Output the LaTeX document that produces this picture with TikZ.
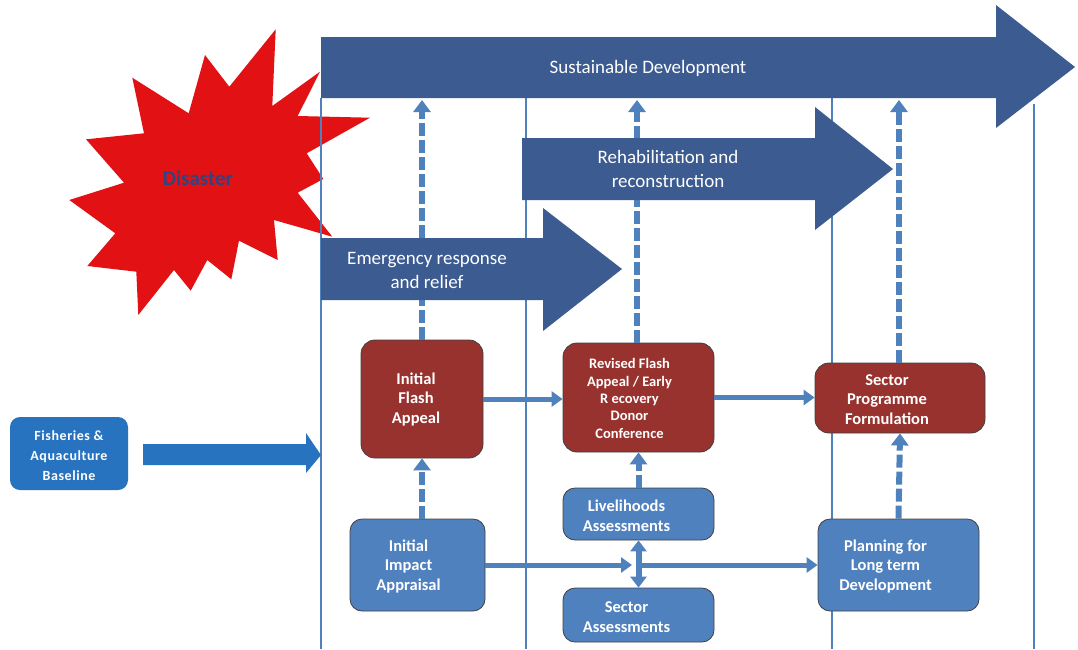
\documentclass[tikz,border=0pt]{standalone}
\usepackage{fontspec}
\setmainfont{Carlito}
\usetikzlibrary{arrows.meta}
\definecolor{arrowblue}{RGB}{59,91,145}
\definecolor{lineblue}{RGB}{79,129,189}
\definecolor{boxred}{RGB}{152,50,46}
\definecolor{boxblue}{RGB}{79,129,191}
\definecolor{fishblue}{RGB}{39,115,192}
\definecolor{starred}{RGB}{225,17,20}
\definecolor{navy}{RGB}{48,68,130}
\tikzset{
  redbox/.style={draw=black!75, line width=0.8pt, fill=boxred, rounded corners=14pt, inner sep=0pt},
  bluebox/.style={draw=black!75, line width=0.8pt, fill=boxblue, rounded corners=12pt, inner sep=0pt},
  boxtext/.style={text=white, align=center, inner sep=0pt, font=\bfseries\fontsize{16.5}{19.5}\selectfont},
  bigarrow/.style={fill=arrowblue, draw=none},
  arrowtext/.style={text=white, align=center, inner sep=0pt, font=\fontsize{19}{24}\selectfont},
  lane/.style={draw=lineblue, line width=1.5pt},
  dasharrow/.style={draw=lineblue, line width=6pt, dash pattern=on 13pt off 4pt, -{Triangle[width=17pt,length=12pt]}},
  solidarrow/.style={draw=lineblue, line width=5pt, -{Triangle[width=15pt,length=11pt]}},
  dblarrow/.style={draw=lineblue, line width=6pt, {Triangle[width=16pt,length=11pt]}-{Triangle[width=16pt,length=11pt]}}
}
\begin{document}
\begin{tikzpicture}[x=1pt,y=-1pt]
\useasboundingbox (0,0) rectangle (1078,649);

% Disaster star
\fill[starred] (275.7,29.3) -- (272.3,106) -- (320,71.7) -- (297.7,116) -- (370,117.7) -- (306.7,153.3)
  -- (323.3,179) -- (297.7,192.7) -- (332.3,236.7) -- (274,220) -- (277.7,260) -- (239,240.7)
  -- (231.3,279.3) -- (207.3,260) -- (190.7,290.7) -- (174,270) -- (138.3,315) -- (136.3,271.7)
  -- (87.3,266) -- (115.3,233.3) -- (69.3,200) -- (124,182.7) -- (86,139.3) -- (144,133.3)
  -- (132.3,77.7) -- (188.7,113.3) -- (205,55) -- (229.3,86.7) -- cycle;
\node[text=navy, font=\bfseries\fontsize{21}{24}\selectfont, inner sep=0pt] (dis) at (198,178) {Disaster};

% swimlane lines
\draw[lane] (321,98) -- (321,649);
\draw[lane] (526,98) -- (526,649);
\draw[lane] (832,98) -- (832,649);
\draw[lane] (1034,104) -- (1034,649);

% boxes
\node[redbox, minimum width=122pt, minimum height=118pt] (ifa) at (422,399) {};
\node[redbox, minimum width=151pt, minimum height=109pt] (rev) at (638.5,397.5) {};
\node[redbox, minimum width=170pt, minimum height=70pt] (spf) at (900,398) {};
\node[bluebox, minimum width=135pt, minimum height=92pt] (iia) at (417.5,565) {};
\node[bluebox, minimum width=151pt, minimum height=52pt] (liv) at (638.5,514) {};
\node[bluebox, minimum width=151pt, minimum height=54pt] (sa) at (638.5,615) {};
\node[bluebox, minimum width=161pt, minimum height=92pt] (plan) at (898.5,565) {};
\node[fill=fishblue, rounded corners=10pt, minimum width=118pt, minimum height=73pt, inner sep=0pt] (fab) at (69,453.5) {};

% connector coordinates
\coordinate (t1) at (422,100);
\coordinate (t2) at (637,100);
\coordinate (t3) at (899,100);
\coordinate (cross) at (632,565);
\coordinate (cross2) at (641,565);
\coordinate (fabend) at (321,455);

% dashed arrows to sustainable development
\draw[dasharrow] (ifa.north) -- (t1);
\draw[dasharrow] (rev.north -| t2) -- (t2);
\draw[dasharrow] (spf.north -| t3) -- (t3);

% big arrows
\fill[bigarrow] (321,37) -- (996,37) -- (996,5) -- (1075,67) -- (996,128) -- (996,98) -- (321,98) -- cycle;
\fill[bigarrow] (522,138) -- (815,138) -- (815,107) -- (893,169) -- (815,230) -- (815,200) -- (522,200) -- cycle;
\fill[bigarrow] (321,238) -- (543,238) -- (543,208) -- (622,269) -- (543,331) -- (543,300) -- (321,300) -- cycle;
\node[arrowtext] (sdt) at (648,68) {Sustainable Development};
\node[arrowtext] (rrt) at (668,169) {Rehabilitation and\\reconstruction};
\node[arrowtext] (ert) at (427,270) {Emergency response\\and relief};

% fisheries arrow
\fill[fishblue] (143,444) -- (306,444) -- (306,433) -- (fabend) -- (306,473) -- (306,465) -- (143,465) -- cycle;

% box texts
\node[boxtext] (ifat) at ([xshift=-6pt]ifa.center) {Initial\\Flash\\Appeal};
\node[boxtext, font=\bfseries\fontsize{14.5}{17.3}\selectfont] (revt) at ([xshift=-9pt,yshift=-1pt]rev.center) {Revised Flash\\Appeal / Early\\R ecovery\\Donor\\Conference};
\node[boxtext] (spft) at ([xshift=-13pt,yshift=-1.5pt]spf.center) {Sector\\Programme\\Formulation};
\node[boxtext] (iiat) at ([xshift=-9pt,yshift=-1pt]iia.center) {Initial\\Impact\\Appraisal};
\node[boxtext] (livt) at ([xshift=-12pt,yshift=-2pt]liv.center) {Livelihoods\\Assessments};
\node[boxtext] (sat) at ([xshift=-12pt,yshift=-2pt]sa.center) {Sector\\Assessments};
\node[boxtext] (plant) at ([xshift=-13pt,yshift=-1pt]plan.center) {Planning for\\Long term\\Development};
\node[boxtext, font=\bfseries\fontsize{14}{20}\selectfont\addfontfeature{LetterSpace=4}] (fabt) at ([yshift=-2.5pt]fab.center) {Fisheries \&\\Aquaculture\\Baseline};

% connectors between boxes
\draw[dasharrow] (iia.north -| ifa) -- (ifa.south);
\draw[dasharrow] (liv.north) -- (rev.south);
\draw[dasharrow] (plan.north) -- (spf.south);
\draw[solidarrow] (ifa.east) -- (ifa.east -| rev.west);
\draw[solidarrow] (rev.east) -- (rev.east -| spf.west);
\draw[solidarrow] (iia.east) -- (cross);
\draw[solidarrow] (cross2) -- (plan.west);
\draw[dblarrow] (liv.south) -- (sa.north);
\end{tikzpicture}
\end{document}
